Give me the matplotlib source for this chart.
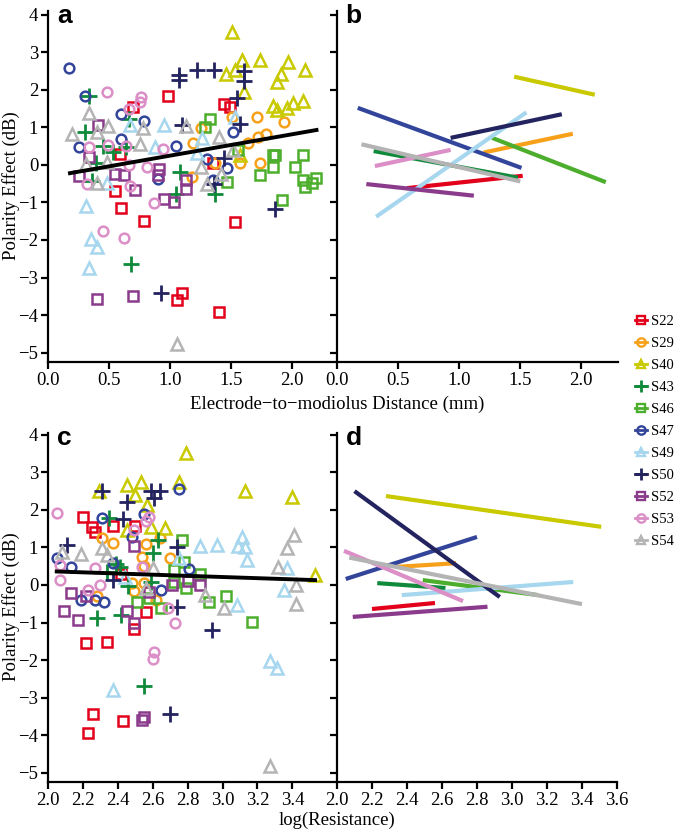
import matplotlib
matplotlib.use("Agg")
from matplotlib import pyplot as plt
from matplotlib.lines import Line2D

# subjects, colours and markers
subjects = ["S22", "S29", "S40", "S43", "S46", "S47", "S49", "S50", "S52", "S53", "S54"]
colors = ["#e3001b", "#f7a11a", "#c9c900", "#0f8a3a", "#4cae2c", "#33459a",
          "#a6d7ee", "#23235f", "#8a3b8c", "#dc8ec6", "#b4b4b4"]
markers = ["s", "o", "^", "+", "s", "o", "^", "+", "s", "o", "^"]

# panel a: electrode-to-modiolus distance (mm) vs polarity effect (dB)
a_S22 = ([0.98, 0.70, 1.44, 1.49, 0.59, 1.35, 0.55, 0.60, 0.79, 1.53, 1.10, 1.06, 1.40],
         [1.84, 1.55, 1.63, 1.55, 0.29, 0.05, -0.70, -1.15, -1.49, -1.52, -3.41, -3.60, -3.92])
a_S29 = ([1.71, 1.93, 1.51, 1.25, 1.19, 1.64, 1.72, 1.79, 1.57, 1.74, 1.18, 1.37],
         [1.27, 1.15, 1.28, 0.98, 0.59, 0.59, 0.75, 0.83, 0.04, 0.04, -0.33, 0.06])
a_S40 = ([1.51, 1.46, 1.53, 1.59, 1.61, 1.74, 1.88, 1.91, 1.97, 2.11, 1.84, 1.88, 1.96, 2.01, 2.09, 1.57],
         [3.55, 2.43, 2.53, 2.80, 1.95, 2.80, 2.22, 2.43, 2.74, 2.53, 1.57, 1.47, 1.52, 1.65, 1.71, 0.27])
a_S43 = ([0.34, 0.30, 0.66, 0.45, 0.53, 0.64, 0.39, 0.36, 1.08, 1.05, 1.37, 0.68],
         [1.84, 0.88, 1.22, 0.51, 0.35, 0.48, 0.06, -0.42, -0.19, -0.78, -0.78, -2.64])
a_S46 = ([1.33, 1.29, 1.56, 1.84, 1.86, 1.84, 1.74, 2.02, 2.09, 2.09, 2.11, 2.16, 2.20, 1.47, 1.92],
         [1.22, 1.01, 0.40, 0.27, 0.27, -0.05, -0.27, -0.05, 0.27, -0.40, -0.58, -0.49, -0.35, -0.45, -0.93])
a_S47 = ([0.17, 0.30, 0.60, 0.79, 0.25, 0.60, 1.05, 1.52, 1.30, 1.47, 0.90, 1.35],
         [2.59, 1.84, 1.35, 1.17, 0.48, 0.69, 0.51, 0.87, 0.15, -0.09, -0.38, -0.40])
a_S49 = ([0.67, 0.95, 0.88, 0.48, 1.53, 1.26, 1.22, 0.31, 0.35, 0.40, 0.34],
         [1.07, 1.07, 0.48, -0.48, 1.28, 0.72, 0.32, -1.09, -1.97, -2.18, -2.75])
a_S50 = ([1.07, 1.07, 1.22, 1.36, 1.61, 1.61, 1.55, 1.57, 1.10, 1.44, 1.36, 1.86, 0.93],
         [2.40, 2.27, 2.53, 2.53, 2.51, 2.24, 1.79, 1.09, 1.07, 0.18, -0.50, -1.18, -3.41])
a_S52 = ([0.41, 0.34, 0.25, 0.55, 0.62, 0.91, 0.90, 1.13, 0.71, 1.13, 0.95, 1.03, 0.40, 0.70],
         [1.07, 0.22, -0.29, -0.24, -0.27, -0.11, -0.27, -0.40, -0.67, -0.64, -0.90, -0.99, -3.57, -3.50])
a_S53 = ([0.48, 0.76, 0.75, 0.66, 0.34, 0.49, 0.64, 0.94, 0.81, 0.66, 0.32, 0.67, 0.87, 0.45, 0.62],
         [1.95, 1.82, 1.68, 1.49, 0.48, 0.53, 0.51, 0.42, -0.05, 0.00, -0.51, -0.56, -1.01, -1.76, -1.95])
a_S54 = ([0.34, 0.20, 0.40, 0.49, 0.78, 0.75, 0.31, 0.48, 0.40, 1.13, 1.40, 1.25, 1.42, 1.30, 1.52, 1.06],
         [1.38, 0.83, 0.88, 1.04, 0.99, 0.56, 0.03, 0.08, -0.48, 1.04, 0.75, -0.05, -0.24, -0.51, 0.40, -4.77])

# panel c: log(resistance) vs polarity effect (dB)
c_S22 = ([2.20, 2.25, 2.27, 2.37, 2.50, 2.42, 2.56, 2.49, 2.22, 2.34, 2.26, 2.23, 2.43],
         [1.81, 1.55, 1.41, 1.57, 1.57, 0.29, -0.72, -1.17, -1.55, -1.52, -3.44, -3.95, -3.63])
c_S29 = ([2.31, 2.37, 2.56, 2.64, 2.54, 2.70, 2.55, 2.28, 2.48, 2.55, 2.49, 2.62],
         [1.25, 1.12, 1.09, 1.25, 0.75, 0.72, 0.51, -0.29, 0.05, 0.05, -0.17, -0.40])
c_S40 = ([2.79, 2.29, 2.45, 2.53, 2.50, 2.57, 2.75, 3.13, 3.40, 3.53, 2.45, 2.59, 2.67],
         [3.52, 2.51, 2.67, 2.75, 2.40, 2.13, 2.75, 2.51, 2.35, 0.27, 1.47, 1.55, 1.52])
c_S43 = ([2.35, 2.63, 2.60, 2.39, 2.41, 2.34, 2.59, 2.46, 2.28, 2.42, 2.55],
         [1.79, 1.20, 0.85, 0.56, 0.48, 0.35, 0.08, -0.03, -0.88, -0.80, -2.69])
c_S46 = ([2.77, 2.78, 2.72, 2.87, 2.72, 2.79, 2.51, 2.58, 2.65, 2.92, 3.02, 3.17],
         [1.20, 0.61, 0.40, 0.29, 0.08, -0.08, -0.45, -0.35, -0.61, -0.45, -0.29, -0.99])
c_S47 = ([2.75, 2.31, 2.55, 2.48, 2.37, 2.05, 2.13, 2.81, 2.65, 2.19, 2.27, 2.32],
         [2.56, 1.79, 1.89, 1.29, 0.59, 0.72, 0.49, 0.42, -0.13, -0.40, -0.40, -0.45])
c_S49 = ([2.87, 2.97, 3.09, 3.11, 3.13, 3.14, 2.75, 3.37, 3.35, 3.08, 2.37, 3.27, 3.31, 2.44],
         [1.04, 1.07, 1.04, 1.28, 1.01, 0.67, 0.72, 0.45, -0.13, -0.53, -2.80, -2.03, -2.21, 0.20])
c_S50 = ([2.31, 2.45, 2.43, 2.59, 2.64, 2.61, 2.74, 2.11, 2.37, 2.74, 2.94, 2.70],
         [2.51, 2.22, 1.75, 2.51, 2.51, 2.33, 1.02, 1.07, 0.13, -0.58, -1.20, -3.44])
c_S52 = ([2.49, 2.13, 2.09, 2.17, 2.45, 2.58, 2.71, 2.80, 2.87, 2.49, 2.54, 2.55, 2.22],
         [1.04, -0.21, -0.69, -0.93, -0.69, -0.19, 0.00, 0.11, 0.00, -1.01, -3.60, -3.52, -0.30])
c_S53 = ([2.05, 2.07, 2.07, 2.27, 2.30, 2.23, 2.49, 2.58, 2.56, 2.54, 2.69, 2.73, 2.61, 2.60],
         [1.92, 0.53, 0.13, 0.45, 0.00, -0.13, 1.47, 1.81, 1.70, 0.48, -0.61, -1.01, -1.79, -1.97])
c_S54 = ([2.08, 2.19, 2.31, 2.34, 2.60, 2.56, 2.90, 3.01, 3.32, 3.37, 3.41, 3.42, 3.42, 3.27],
         [0.88, 0.83, 0.99, 0.80, 0.45, -0.08, -0.27, -0.61, 0.48, 0.99, 1.33, 0.00, -0.51, -4.83])

# pooled fits (black lines)
fit_a = ([0.18, 2.20], [-0.22, 0.93])
fit_c = ([2.05, 3.53], [0.36, 0.13])

# per-subject fits, panel b (distance)
b_S22 = ([0.57, 1.52], [-0.62, -0.29])
b_S29 = ([1.20, 1.93], [0.33, 0.83])
b_S40 = ([1.45, 2.11], [2.35, 1.87])
b_S43 = ([0.30, 1.48], [0.37, -0.34])
b_S46 = ([1.27, 2.20], [0.72, -0.46])
b_S47 = ([0.17, 1.51], [1.52, -0.08])
b_S49 = ([0.32, 1.55], [-1.38, 1.40])
b_S50 = ([0.93, 1.84], [0.72, 1.35])
b_S52 = ([0.24, 1.12], [-0.51, -0.82])
b_S53 = ([0.31, 0.93], [-0.03, 0.40])
b_S54 = ([0.20, 1.50], [0.55, -0.44])

# per-subject fits, panel d (resistance)
d_S22 = ([2.20, 2.56], [-0.64, -0.48])
d_S29 = ([2.33, 2.68], [0.48, 0.58])
d_S40 = ([2.28, 3.51], [2.37, 1.55])
d_S43 = ([2.23, 2.62], [0.05, -0.08])
d_S46 = ([2.49, 3.15], [0.13, -0.27])
d_S47 = ([2.05, 2.80], [0.16, 1.28])
d_S49 = ([2.37, 3.35], [-0.27, 0.08])
d_S50 = ([2.10, 2.93], [2.50, -0.32])
d_S52 = ([2.09, 2.86], [-0.85, -0.58])
d_S53 = ([2.04, 2.72], [0.91, -0.43])
d_S54 = ([2.07, 3.40], [0.73, -0.51])

a_data = [a_S22, a_S29, a_S40, a_S43, a_S46, a_S47, a_S49, a_S50, a_S52, a_S53, a_S54]
c_data = [c_S22, c_S29, c_S40, c_S43, c_S46, c_S47, c_S49, c_S50, c_S52, c_S53, c_S54]
b_lines = [b_S22, b_S29, b_S40, b_S43, b_S46, b_S47, b_S49, b_S50, b_S52, b_S53, b_S54]
d_lines = [d_S22, d_S29, d_S40, d_S43, d_S46, d_S47, d_S49, d_S50, d_S52, d_S53, d_S54]

y_ticks = [-5, -4, -3, -2, -1, 0, 1, 2, 3, 4]
dist_ticks = [0.0, 0.5, 1.0, 1.5, 2.0]
res_ticks_c = [2.0, 2.2, 2.4, 2.6, 2.8, 3.0, 3.2, 3.4]
res_ticks_d = [2.0, 2.2, 2.4, 2.6, 2.8, 3.0, 3.2, 3.4, 3.6]

plt.rcParams["font.family"] = ["Liberation Serif", "DejaVu Serif"]

W, H = 676.0, 833.0
fig = plt.figure(figsize=(W / 100, H / 100), dpi=100)


def px_axes(left, top, right, bottom):
    return fig.add_axes([left / W, 1 - bottom / H, (right - left) / W, (bottom - top) / H])


def style(ax, letter, show_ylabels=True):
    for side in ["top", "right"]:
        ax.spines[side].set_visible(False)
    for side in ["left", "bottom"]:
        ax.spines[side].set_linewidth(1.6)
    ax.tick_params(direction="out", length=5, width=1.6, labelsize=13.5, pad=2)
    ax.set_yticks(y_ticks)
    ax.set_yticklabels([str(t).replace("-", "\u2212") for t in y_ticks])
    if not show_ylabels:
        ax.tick_params(labelleft=False)
    ax.text(0.031, 0.966, letter, transform=ax.transAxes, fontsize=19,
            fontweight="bold", family="Liberation Sans", va="baseline", ha="left")


def scatter_panel(ax, data):
    for (xs, ys), col, mk in zip(data, colors, markers):
        if mk == "+":
            ax.plot(xs, ys, linestyle="none", marker=mk, ms=11, mew=2.0, color=col)
        else:
            size = 8 if mk == "^" else 7
            ax.plot(xs, ys, linestyle="none", marker=mk, ms=size, mew=1.8,
                    mfc="none", mec=col)


def line_panel(ax, lines):
    for (xs, ys), col in zip(lines, colors):
        ax.plot(xs, ys, color=col, lw=3.0, solid_capstyle="butt")


# panel a
ax_a = px_axes(48, 11, 336, 362)
scatter_panel(ax_a, a_data)
ax_a.plot(fit_a[0], fit_a[1], color="black", lw=2.8, zorder=5)
ax_a.set_xlim(0, 2.36)
ax_a.set_ylim(-5.25, 4.1)
ax_a.set_xticks(dist_ticks)
ax_a.set_xticklabels(["%.1f" % t for t in dist_ticks])
style(ax_a, "a")

# panel b
ax_b = px_axes(337, 11, 618, 362)
line_panel(ax_b, b_lines)
ax_b.set_xlim(0, 2.30)
ax_b.set_ylim(-5.25, 4.1)
ax_b.set_xticks(dist_ticks)
ax_b.set_xticklabels(["%.1f" % t for t in dist_ticks])
style(ax_b, "b", show_ylabels=False)

# panel c
ax_c = px_axes(48, 433, 336, 782)
scatter_panel(ax_c, c_data)
ax_c.plot(fit_c[0], fit_c[1], color="black", lw=2.8, zorder=5)
ax_c.set_xlim(2.0, 3.65)
ax_c.set_ylim(-5.25, 4.05)
ax_c.set_xticks(res_ticks_c)
ax_c.set_xticklabels(["%.1f" % t for t in res_ticks_c])
style(ax_c, "c")

# panel d
ax_d = px_axes(337, 433, 617, 782)
line_panel(ax_d, d_lines)
ax_d.set_xlim(2.0, 3.6)
ax_d.set_ylim(-5.25, 4.05)
ax_d.set_xticks(res_ticks_d)
ax_d.set_xticklabels(["%.1f" % t for t in res_ticks_d])
style(ax_d, "d", show_ylabels=False)

# axis titles
for yc in [186, 607]:
    fig.text(11 / W, 1 - yc / H, "Polarity Effect (dB)", rotation=90,
             ha="center", va="center", fontsize=13.5)
fig.text(337 / W, 1 - 404 / H, "Electrode\u2212to\u2212modiolus Distance (mm)",
         ha="center", va="center", fontsize=13.5)
fig.text(337 / W, 1 - 820 / H, "log(Resistance)", ha="center", va="center", fontsize=13.5)

# legend
handles = []
for col, mk in zip(colors, markers):
    if mk == "+":
        h = Line2D([], [], color=col, marker=mk, ms=9, mew=2.0, lw=2.0)
    else:
        h = Line2D([], [], color=col, marker=mk, ms=6, mew=1.7, mfc="none", lw=2.0)
    handles.append(h)
fig.legend(handles, subjects, loc="upper left", bbox_to_anchor=(635 / W, 1 - 315 / H),
           frameon=False, fontsize=10.5, handlelength=0.8, handletextpad=0.3,
           labelspacing=0.6, borderaxespad=0, borderpad=0)

plt.savefig("out.png", dpi=100)
